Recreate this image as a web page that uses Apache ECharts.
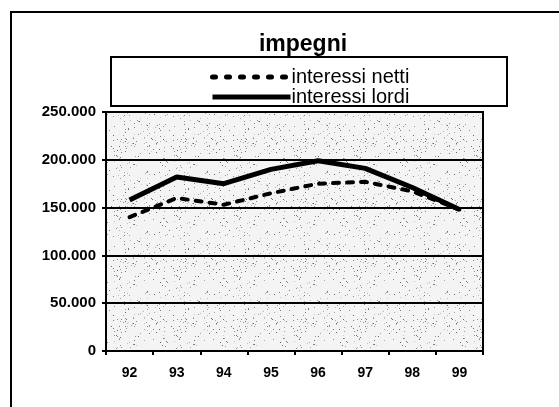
<!DOCTYPE html>
<html>
<head>
<meta charset="utf-8">
<script src="https://cdn.jsdelivr.net/npm/echarts@6/dist/echarts.min.js"></script>
<style>html,body{margin:0;padding:0;background:#fff}#c{width:559px;height:407px}</style>
</head>
<body>
<div id="c"></div>
<script>
var titleText = 'impegni';
var categories = ['92','93','94','95','96','97','98','99'];
var nettiName = 'interessi netti';
var lordiName = 'interessi lordi';
var netti = [140000,160000,153000,165000,175000,177000,167000,148000];
var lordi = [158000,182000,175000,190000,199000,191000,171000,148000];

// speckled background texture (decoration only)
var pc = document.createElement('canvas');
pc.width = 60; pc.height = 60;
var pctx = pc.getContext('2d');
pctx.fillStyle = '#f4f4f4';
pctx.fillRect(0,0,60,60);
var s = 7;
for (var i = 0; i < 150; i++) {
  s = (s * 9301 + 49297) % 233280;
  var px = Math.floor(s / 233280 * 60);
  s = (s * 9301 + 49297) % 233280;
  var py = Math.floor(s / 233280 * 60);
  s = (s * 9301 + 49297) % 233280;
  var g = 100 + Math.floor(s / 233280 * 110);
  pctx.fillStyle = 'rgb(' + g + ',' + g + ',' + g + ')';
  pctx.fillRect(px, py, 1, 1);
}

var font = 'Arial, "Liberation Sans", Helvetica, sans-serif';
var chart = echarts.init(document.getElementById('c'), null, {renderer: 'canvas'});
chart.setOption({
  animation: false,
  backgroundColor: '#fff',
  title: {
    text: titleText, left: 298, top: 28, textAlign: 'center',
    textStyle: {fontFamily: font, fontSize: 23, fontWeight: 'bold', color: '#000'}
  },
  legend: {
    orient: 'vertical', left: 205, top: 62, itemGap: 0,
    itemWidth: 78, itemHeight: 14,
    itemStyle: {opacity: 0},
    textStyle: {fontFamily: font, fontSize: 20, lineHeight: 19, color: '#000', padding: [0,0,0,-4]},
    data: [
      {name: nettiName, lineStyle: {width: 5, type: [3, 11], cap: 'round'}},
      {name: lordiName, lineStyle: {width: 5}}
    ]
  },
  grid: {
    left: 106, right: 76, top: 112, bottom: 56,
    show: true, borderColor: '#000', borderWidth: 2,
    backgroundColor: {image: pc, repeat: 'repeat'}
  },
  xAxis: {
    type: 'category', data: categories, boundaryGap: true,
    axisLine: {lineStyle: {color: '#000', width: 2}},
    axisTick: {show: true, length: 4, lineStyle: {color: '#000', width: 2}},
    axisLabel: {fontFamily: font, fontSize: 14, fontWeight: 'bold', color: '#000', margin: 15}
  },
  yAxis: {
    type: 'value', min: 0, max: 250000, interval: 50000,
    axisLine: {show: true, lineStyle: {color: '#000', width: 2}},
    axisTick: {show: true, length: 4, lineStyle: {color: '#000', width: 2}},
    splitLine: {show: true, lineStyle: {color: '#000', width: 2}},
    axisLabel: {
      fontFamily: font, fontSize: 15, fontWeight: 'bold', color: '#000', margin: 10,
      formatter: function (v) {
        if (v === 0) return '0';
        return (v / 1000) + '.000';
      }
    }
  },
  series: [
    {
      name: nettiName, type: 'line', data: netti, symbol: 'none',
      lineStyle: {color: '#000', width: 4, type: [6, 8], cap: 'round'},
      itemStyle: {color: '#000'}, z: 3
    },
    {
      name: lordiName, type: 'line', data: lordi, symbol: 'none',
      lineStyle: {color: '#000', width: 5},
      itemStyle: {color: '#000'}, z: 4
    }
  ],
  graphic: [
    {type: 'rect', shape: {x: 111, y: 57, width: 396, height: 49},
     style: {fill: null, stroke: '#000', lineWidth: 2}, z: -1},
    {type: 'polyline', shape: {points: [[11, 407], [11, 12], [559, 12]]},
     style: {fill: null, stroke: '#000', lineWidth: 2}}
  ]
});
</script>
</body>
</html>
